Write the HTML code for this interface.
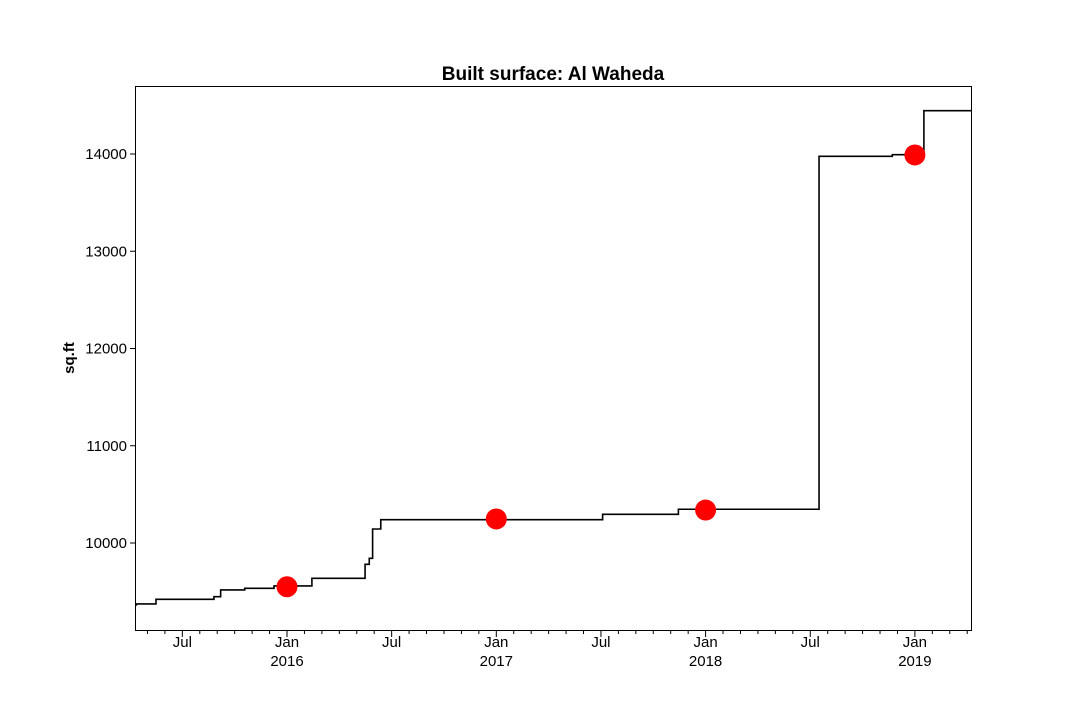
<!DOCTYPE html>
<html><head><meta charset="utf-8"><style>
body{margin:0;background:#fff;}
svg text{font-family:"Liberation Sans","DejaVu Sans",sans-serif;}
</style></head><body>
<svg id="chart" width="1080" height="720">
<text x="553" y="80" text-anchor="middle" font-size="19" font-weight="bold">Built surface: Al Waheda</text>
<text transform="translate(74,358) rotate(-90)" text-anchor="middle" font-size="15" font-weight="bold">sq.ft</text>
<g id="axes"></g>
<g id="marks"></g>
<rect x="135.5" y="86.5" width="836" height="544" fill="none" stroke="#000" stroke-width="1"/>
</svg>
<script>
const stepYears = [2015.280,2015.374,2015.651,2015.683,2015.798,2015.938,2016.119,2016.373,2016.393,2016.409,2016.448,2017.508,2017.870,2018.542,2018.892,2019.043];
const stepValues = [9363,9373,9421,9448,9517,9534,9558,9637,9781,9843,10144,10240,10295,10347,13976,13993,14445];
const markerYears = [2016.0,2017.0,2018.0,2019.0];
const markerValues = [9550,10247,10339,13990];
const yTicks = [10000,11000,12000,13000,14000];
const xStart = 2015.274, xEnd = 2019.273;

const X = yr => 287 + (yr-2016)*209.3;
const Y = v => 543 - (v-10000)*0.09725;
const NS = "http://www.w3.org/2000/svg";
const axes = document.getElementById('axes'), marks = document.getElementById('marks');
function mk(tag, attrs, parent){const e=document.createElementNS(NS,tag);for(const k in attrs)e.setAttribute(k,attrs[k]);parent.appendChild(e);return e;}

yTicks.forEach(v=>{
  const y=Y(v);
  const t=mk('line',{x1:130,x2:135,y1:y,y2:y,stroke:'#000'},axes);
  
  
  const l=mk('text',{x:127,y:y+5,'text-anchor':'end','font-size':15},axes);
  l.textContent=v;
  
  
});

for(let yr=2015;yr<=2019;yr++){
  for(let m=0;m<12;m++){
    const fy=yr+m/12, x=X(fy);
    if(fy<xStart-0.001||fy>xEnd+0.01) continue;
    const major=(m===0||m===6);
    const t=mk('line',{x1:x,x2:x,y1:631,y2:major?637:634,stroke:'#000'},axes);
    
    
    if(major){
      const l=mk('text',{x:x,y:647,'text-anchor':'middle','font-size':15},axes);
      l.textContent=m===0?'Jan':'Jul';
      
      
      if(m===0){
        const l2=mk('text',{x:x,y:666,'text-anchor':'middle','font-size':15},axes);
        l2.textContent=yr;
        
        
      }
    }
  }
}
let d='M'+X(xStart)+','+Y(stepValues[0]);
stepYears.forEach((yr,i)=>{d+=' L'+X(yr)+','+Y(stepValues[i])+' L'+X(yr)+','+Y(stepValues[i+1]);});
d+=' L'+X(xEnd)+','+Y(stepValues[stepValues.length-1]);
const p=mk('path',{d:d,fill:'none',stroke:'#000','stroke-width':1.6},marks);


markerYears.forEach((yr,i)=>{
  const c=mk('circle',{cx:X(yr),cy:Y(markerValues[i]),r:10.5,fill:'#ff0000'},marks);
  
  
});
</script>
</body></html>
